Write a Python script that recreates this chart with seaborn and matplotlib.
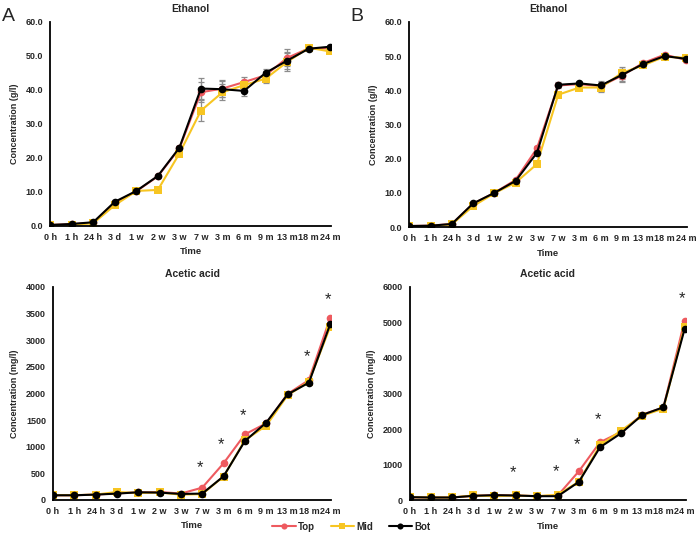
import matplotlib
matplotlib.use("Agg")
import matplotlib.pyplot as plt
import numpy as np
import pandas as pd
import seaborn as sns

# time points (categorical)
times = ["0 h", "1 h", "24 h", "3 d", "1 w", "2 w", "3 w", "7 w", "3 m", "6 m", "9 m", "13 m", "18 m", "24 m"]

# Panel A - ethanol (g/l)
a_eth_top = [0.3, 0.5, 1.0, 6.8, 10.2, 14.6, 22.8, 39.3, 40.4, 42.3, 44.3, 49.4, 52.2, 52.2]
a_eth_mid = [0.3, 0.3, 0.8, 6.1, 10.3, 10.6, 21.3, 33.9, 39.3, 41.4, 43.3, 48.2, 52.4, 51.3]
a_eth_bot = [0.3, 0.6, 1.1, 7.1, 10.3, 14.7, 23.0, 40.4, 40.2, 39.7, 45.0, 48.6, 52.1, 52.7]
a_eth_err = [0.2, 0.2, 0.3, 0.5, 0.4, 0.4, 0.6, 3.0, 2.4, 1.6, 1.2, 2.5, 0.6, 0.6]

# Panel B - ethanol (g/l)
b_eth_top = [0.3, 0.4, 0.9, 6.8, 10.0, 13.8, 23.0, 41.4, 41.8, 41.2, 44.3, 48.0, 50.4, 48.9]
b_eth_mid = [0.3, 0.3, 0.8, 6.1, 9.9, 13.0, 18.4, 38.7, 40.8, 40.8, 45.1, 47.3, 49.8, 49.5]
b_eth_bot = [0.3, 0.4, 0.9, 6.9, 10.0, 13.5, 21.7, 41.6, 42.0, 41.4, 44.5, 47.7, 50.0, 49.2]
b_eth_err = [0.2, 0.2, 0.2, 0.4, 0.3, 0.4, 0.6, 0.7, 0.5, 1.3, 1.8, 0.6, 0.5, 0.5]

# Panel A - acetic acid (mg/l)
a_ace_top = [88, 88, 100, 125, 140, 150, 120, 231, 688, 1231, 1438, 1988, 2250, 3419]
a_ace_mid = [90, 90, 100, 150, 130, 140, 100, 110, 440, 1120, 1394, 1963, 2220, 3250]
a_ace_bot = [88, 88, 100, 119, 144, 138, 113, 119, 444, 1106, 1450, 1981, 2200, 3300]
a_stars_x = ["7 w", "3 m", "6 m", "18 m", "24 m"]
a_stars_y = [600, 1040, 1580, 2690, 3760]

# Panel B - acetic acid (mg/l)
b_ace_top = [90, 84, 84, 131, 150, 140, 121, 140, 822, 1636, 1925, 2411, 2607, 5037]
b_ace_mid = [93, 84, 84, 140, 120, 140, 121, 160, 530, 1550, 1963, 2383, 2579, 4880]
b_ace_bot = [93, 84, 84, 131, 150, 140, 121, 121, 523, 1495, 1888, 2402, 2617, 4804]
b_stars_x = ["2 w", "7 w", "3 m", "6 m", "24 m"]
b_stars_y = [770, 810, 1560, 2260, 5660]

series = ["Top", "Mid", "Bot"]
colors = {"Top": "#EE5A5F", "Mid": "#F7C522", "Bot": "#000000"}
markers = {"Top": "o", "Mid": "s", "Bot": "o"}

sns.set_style("white")
plt.rcParams["font.family"] = ["Liberation Sans", "DejaVu Sans"]
plt.rcParams["font.weight"] = "bold"

fig = plt.figure(figsize=(6.96, 5.33), dpi=100)
ax_a1 = fig.add_axes([0.072, 0.576, 0.404, 0.383])
ax_b1 = fig.add_axes([0.588, 0.574, 0.399, 0.385])
ax_a2 = fig.add_axes([0.076, 0.062, 0.400, 0.400])
ax_b2 = fig.add_axes([0.589, 0.061, 0.396, 0.401])

idx = np.arange(len(times))


def draw(ax, top, mid, bot, err, title, ylabel, ymax, ystep, fmt):
    df = pd.DataFrame({"x": np.tile(idx, 3),
                       "y": list(top) + list(mid) + list(bot),
                       "s": np.repeat(series, len(times))})
    if err is not None:
        for vals in (top, mid, bot):
            ax.errorbar(idx, vals, yerr=err, fmt="none", ecolor="#8c8c8c",
                        elinewidth=0.9, capsize=2.5, capthick=0.9, zorder=1)
    for s in series:
        sub = df[df.s == s]
        sns.lineplot(data=sub, x="x", y="y", ax=ax, color=colors[s], marker=markers[s],
                     markersize=5.5, markeredgewidth=0, linewidth=1.5, label=s,
                     legend=False, zorder=3 if s == "Bot" else 2)
    ax.set_xlim(0, 13.05)
    ax.set_ylim(0, ymax)
    ax.set_xticks(idx)
    ax.set_xticklabels(times)
    yt = np.arange(0, ymax + ystep / 2, ystep)
    ax.set_yticks(yt)
    ax.set_yticklabels([fmt.format(v) for v in yt])
    ax.set_title(title, fontsize=7.5, fontweight="bold", pad=7)
    ax.set_xlabel("Time", fontsize=6.8, fontweight="bold", labelpad=4)
    ax.set_ylabel(ylabel, fontsize=6.5, fontweight="bold", labelpad=5)
    ax.tick_params(axis="both", labelsize=6.5, length=3, width=0.8, direction="out", pad=2)
    ax.tick_params(axis="x", length=2, pad=3)
    for lab in ax.get_xticklabels() + ax.get_yticklabels():
        lab.set_fontweight("bold")
    sns.despine(ax=ax)
    for sp in ("left", "bottom"):
        ax.spines[sp].set_color("black")
        ax.spines[sp].set_linewidth(1.3)
    ax.grid(False)


draw(ax_a1, a_eth_top, a_eth_mid, a_eth_bot, a_eth_err, "Ethanol", "Concentration (g/l)", 60, 10, "{:.1f}")
draw(ax_b1, b_eth_top, b_eth_mid, b_eth_bot, b_eth_err, "Ethanol", "Concentration (g/l)", 60, 10, "{:.1f}")
draw(ax_a2, a_ace_top, a_ace_mid, a_ace_bot, None, "Acetic acid", "Concentration (mg/l)", 4000, 500, "{:.0f}")
draw(ax_b2, b_ace_top, b_ace_mid, b_ace_bot, None, "Acetic acid", "Concentration (mg/l)", 6000, 1000, "{:.0f}")

for ax, sx, sy in ((ax_a2, a_stars_x, a_stars_y), (ax_b2, b_stars_x, b_stars_y)):
    for x, y in zip(sx, sy):
        ax.text(times.index(x) - 0.1, y, "*", ha="center", va="center", fontsize=12,
                fontweight="normal", clip_on=False)

fig.text(0.003, 0.985, "A", fontsize=14, fontweight="normal", va="top")
fig.text(0.503, 0.985, "B", fontsize=14, fontweight="normal", va="top")

handles, labels = ax_a2.get_legend_handles_labels()
fig.legend(handles, labels, loc="center", bbox_to_anchor=(0.505, 0.012), ncol=3, frameon=False,
           fontsize=7, handlelength=2.4, handletextpad=0.25, columnspacing=1.6, markerscale=0.8)

fig.savefig("out.png", dpi=100)
